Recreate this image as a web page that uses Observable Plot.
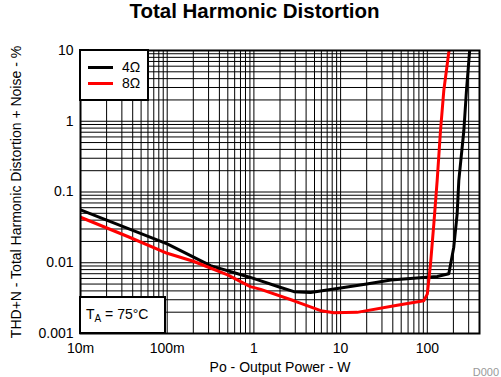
<!DOCTYPE html>
<html>
<head>
<meta charset="utf-8">
<script src="https://cdn.jsdelivr.net/npm/d3@7"></script>
<script src="https://cdn.jsdelivr.net/npm/@observablehq/plot@0.6"></script>
<style>
  html, body { margin: 0; padding: 0; background: #fff; }
  #wrap { position: relative; width: 501px; height: 377px; overflow: hidden; font-family: "Liberation Sans", Arial, sans-serif; }
  #title { position: absolute; top: 0; left: 4px; width: 501px; text-align: center; font-weight: bold; font-size: 20.5px; line-height: 22px; color: #000; }
  #chart { position: absolute; top: 28px; left: 0; }
  .box { position: absolute; background: #fff; border: 2px solid #000; box-sizing: border-box; }
  .lg { position: absolute; font-size: 14px; line-height: 16px; color: #000; }
  .sw { position: absolute; height: 3px; width: 25px; }
  #note { position: absolute; font-size: 14px; color: #000; }
  #d000 { position: absolute; right: 2px; bottom: -1px; font-size: 11px; color: #999; }
</style>
</head>
<body>
<div id="wrap">
  <div id="title">Total Harmonic Distortion</div>
  <div id="chart"></div>
  <div class="box" style="left:79px; top:49px; width:70px; height:52px;"></div>
  <div class="sw" style="left:88px; top:66px; background:#000;"></div>
  <div class="lg" style="left:122px; top:59px;">4Ω</div>
  <div class="sw" style="left:88px; top:82px; background:#ff0000;"></div>
  <div class="lg" style="left:122px; top:75px;">8Ω</div>
  <div class="box" style="left:79px; top:296px; width:87px; height:38px;"></div>
  <div id="note" style="left:86px; top:306px;">T<sub style="font-size:10px; vertical-align:-3px;">A</sub> = 75°C</div>
  <div id="d000">D000</div>
</div>
<script>
// Black curve: 4 Ω
const p4 = [0.01, 0.1, 0.316, 0.91, 2, 2.9, 4.5, 10, 20, 38, 90, 130, 177, 202, 221, 231, 264, 283, 307, 315];
const thd4 = [0.056, 0.0185, 0.0091, 0.0062, 0.0045, 0.0039, 0.0038, 0.0044, 0.005, 0.0057, 0.0062, 0.0064, 0.007, 0.0166, 0.049, 0.146, 0.74, 2.72, 9.5, 12];
// Red curve: 8 Ω
const p8 = [0.01, 0.035, 0.1, 0.2, 0.49, 0.91, 1.2, 2.9, 5.9, 8.4, 15.5, 45, 91, 100, 109, 119, 130, 142, 155, 177, 185];
const thd8 = [0.044, 0.0235, 0.0136, 0.0105, 0.0068, 0.0046, 0.0042, 0.0029, 0.0021, 0.00196, 0.00199, 0.0025, 0.0029, 0.0036, 0.0097, 0.0356, 0.146, 0.74, 2.72, 9.5, 12];

const xTicks = [0.01, 0.1, 1, 10, 100, 400];
const xTickLabels = ["10m", "100m", "1", "10", "100", "400"];
const yTicks = [0.001, 0.01, 0.1, 1, 10];
const yTickLabels = ["0.001", "0.01", "0.1", "1", "10"];

const xDomain = [0.01, 400];
const yDomain = [0.001, 10];

const d4 = p4.map((x, i) => ({x, y: thd4[i]}));
const d8 = p8.map((x, i) => ({x, y: thd8[i]}));
const xGrid = d3.scaleLog().domain(xDomain).ticks().filter(v => v > xDomain[0] && v < xDomain[1]);
const yGrid = d3.scaleLog().domain(yDomain).ticks().filter(v => v > yDomain[0] && v < yDomain[1]);

const chart = Plot.plot({
  width: 501,
  height: 349,
  marginTop: 22,
  marginBottom: 44,
  marginLeft: 80,
  marginRight: 22,
  style: {fontFamily: "'Liberation Sans', Arial, sans-serif", fontSize: "14px", color: "#000", background: "#fff", overflow: "visible"},
  x: {type: "log", domain: xDomain},
  y: {type: "log", domain: yDomain},
  marks: [
    Plot.ruleX(xGrid, {stroke: "#000", strokeWidth: 1}),
    Plot.ruleY(yGrid, {stroke: "#000", strokeWidth: 1}),
    Plot.line(d4, {x: "x", y: "y", stroke: "#000", strokeWidth: 3, clip: true, strokeLinejoin: "round"}),
    Plot.line(d8, {x: "x", y: "y", stroke: "#ff0000", strokeWidth: 3, clip: true, strokeLinejoin: "round"}),
    Plot.frame({stroke: "#000", strokeWidth: 2}),
    Plot.axisX({ticks: xTicks, tickFormat: (d) => xTickLabels[xTicks.indexOf(d)], tickSize: 0, tickPadding: 10,
      label: "Po - Output Power - W", labelAnchor: "center", labelOffset: 38, labelArrow: "none"}),
    Plot.axisY({ticks: yTicks, tickFormat: (d) => yTickLabels[yTicks.indexOf(d)], tickSize: 0, tickPadding: 7,
      label: "THD+N - Total Harmonic Distortion + Noise - %", labelAnchor: "center", labelOffset: 69, labelArrow: "none"})
  ]
});
document.getElementById("chart").appendChild(chart);
</script>
</body>
</html>
